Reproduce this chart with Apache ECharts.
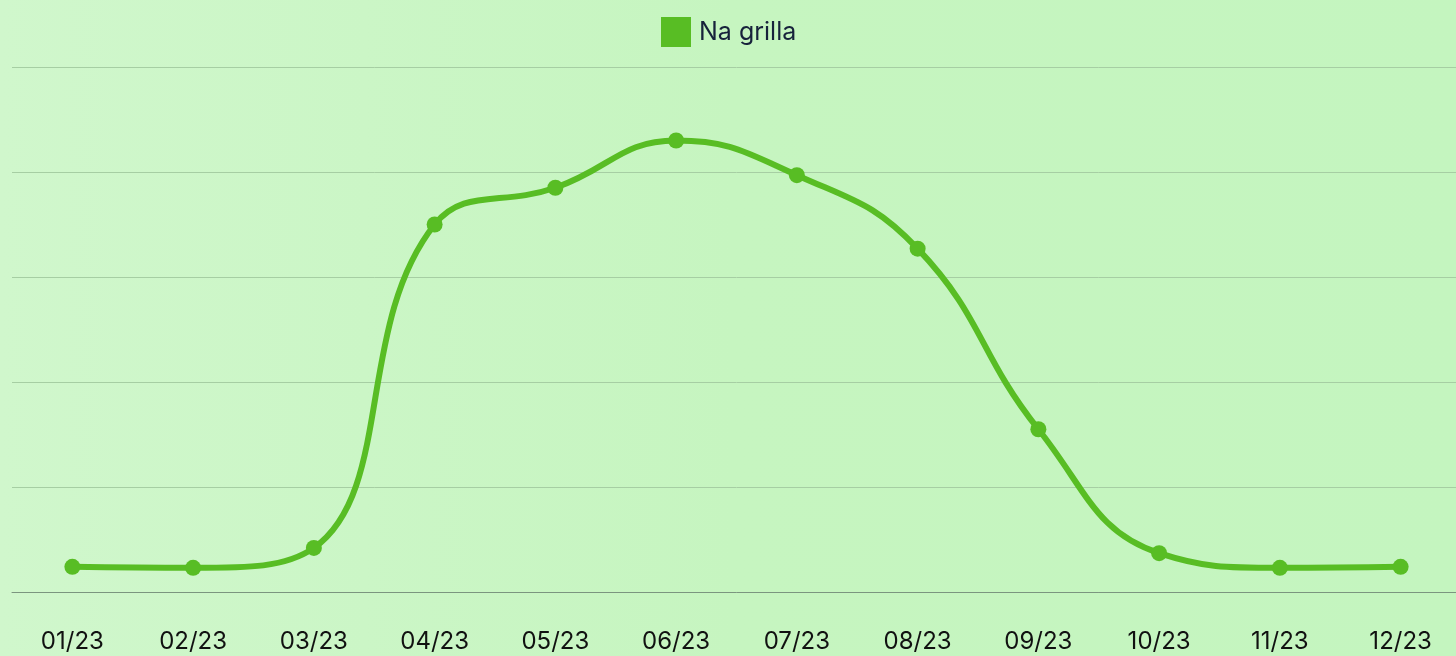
<!DOCTYPE html>
<html>
<head>
<meta charset="utf-8">
<script src="https://cdn.jsdelivr.net/npm/echarts@6/dist/echarts.min.js"></script>
<style>
  html, body { margin: 0; padding: 0; overflow: hidden; }
  #chart { width: 1461px; height: 656px; }
</style>
</head>
<body>
<div id="chart"></div>
<script>
// months shown on the x axis
var months = ['01/23', '02/23', '03/23', '04/23', '05/23', '06/23',
              '07/23', '08/23', '09/23', '10/23', '11/23', '12/23'];
// values (no y labels in the original)
var naGrilla = [2.4, 2.3, 4.2, 35.0, 38.5, 43.0, 39.7, 32.7, 15.5, 3.7, 2.3, 2.4];
var yTicks = [0, 10, 20, 30, 40, 50];

var chart = echarts.init(document.getElementById('chart'));
var option = {
    backgroundColor: {
        type: 'linear', x: 0, y: 0, x2: 1, y2: 0,
        colorStops: [
            { offset: 0, color: '#d0f7cc' },
            { offset: 0.5, color: '#c6f5c0' },
            { offset: 1, color: '#c4f5bf' }
        ]
    },
    textStyle: { fontFamily: 'Inter, "Noto Sans", sans-serif' },
    legend: {
        top: 12,
        left: 656,
        itemWidth: 30,
        itemHeight: 30,
        itemGap: 10,
        icon: 'rect',
        textStyle: { fontSize: 25, color: '#17223b', padding: [0, 0, 0, 3] },
        data: ['Na grilla']
    },
    grid: { left: 12, right: 0, top: 67, bottom: 64 },
    xAxis: {
        type: 'category',
        data: months,
        boundaryGap: true,
        axisLine: { lineStyle: { color: '#7b957f', width: 1 } },
        axisTick: { show: false },
        axisLabel: { fontSize: 24, color: '#111', margin: 38 }
    },
    yAxis: {
        type: 'value',
        min: yTicks[0],
        max: yTicks[yTicks.length - 1],
        interval: 10,
        axisLabel: { show: false },
        axisLine: { show: false },
        axisTick: { show: false },
        splitLine: { lineStyle: { color: '#a6cea3', width: 1 } }
    },
    series: [{
        name: 'Na grilla',
        type: 'line',
        smooth: 0.45,
        data: naGrilla,
        symbol: 'circle',
        symbolSize: 16,
        color: '#58bd24',
        lineStyle: { width: 6, color: '#58bd24' },
        itemStyle: { color: '#58bd24' }
    }]
};
chart.setOption(option);
</script>
</body>
</html>
